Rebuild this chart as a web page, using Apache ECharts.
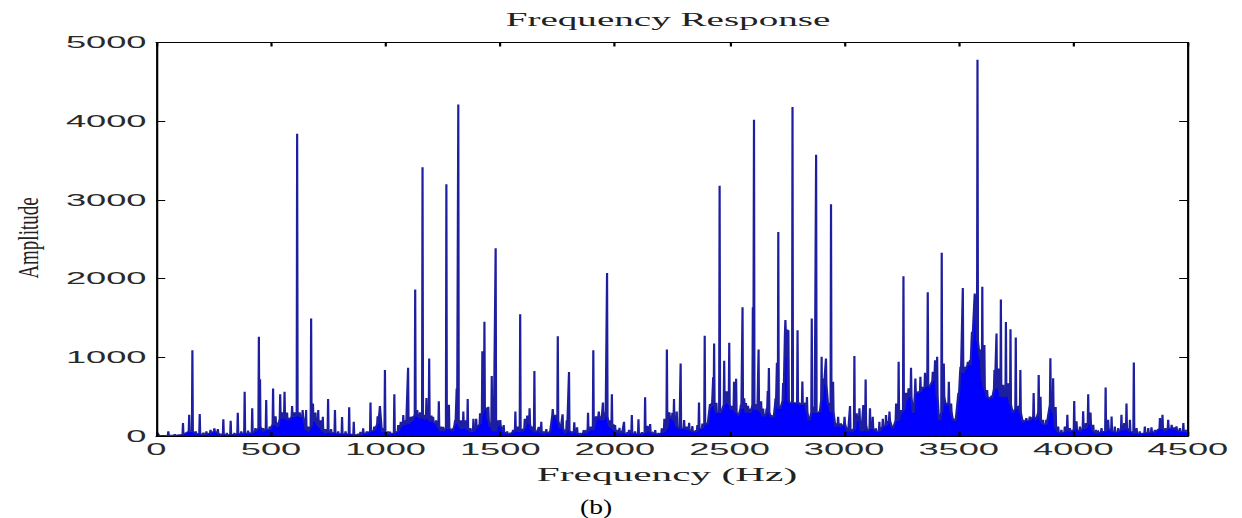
<!DOCTYPE html>
<html>
<head>
<meta charset="utf-8">
<script src="https://cdn.jsdelivr.net/npm/echarts@6/dist/echarts.min.js"></script>
<style>
html,body{margin:0;padding:0;background:#fff;overflow:hidden;width:1242px;height:518px;}
#chart{position:absolute;left:0;top:0;width:565px;height:518px;transform:scaleX(2.19823);transform-origin:0 0;}
</style>
</head>
<body>
<div id="chart"></div>
<script>
// Each entry: [frequency Hz, spike amplitude, surrounding floor amplitude]
const band0to1000 = [
  [10,15,5],[52,60,10],[80,25,10],[116,165,20],[143,270,60],[157,1091,60],[172,60,30],[189,280,30],
  [205,45,20],[218,60,25],[236,80,40],[253,97,60],[268,88,40],[280,30,15],[292,212,20],[307,40,15],
  [324,195,20],[340,40,20],[355,296,30],[370,60,30],[385,563,40],[400,70,35],[418,351,40],[432,100,60],
  [447,1260,100],[452,720,120],[466,100,60],[479,457,80],[494,120,80],[509,605,150],[520,250,150],
  [528,170,120],[540,529,220],[550,300,220],[559,563,250],[570,300,200],[580,230,200],[592,381,250],
  [603,300,250],[614,3841,260],[625,300,250],[638,330,250],[653,330,80],[664,120,60],[675,1493,120],
  [683,414,200],[694,300,180],[706,330,130],[716,200,100],[726,245,60],[737,90,40],[749,470,50],
  [762,90,40],[779,330,40],[793,60,30],[810,240,30],[825,60,25],[841,364,30],[861,180,15],[880,30,15],
  [890,55,20],[902,97,30],[918,60,40],[934,427,60],[950,120,70],[965,250,150],[975,381,300],
  [986,100,50],[997,838,50]
];
const band1000to2000 = [
  [1010,60,30],[1019,55,30],[1038,529,40],[1055,140,60],[1066,180,120],[1077,266,150],[1088,200,150],
  [1098,867,150],[1109,245,180],[1118,250,200],[1129,1861,280],[1138,330,250],[1150,300,230],
  [1161,3414,230],[1170,270,220],[1178,484,230],[1190,986,200],[1200,260,180],[1207,245,180],
  [1220,200,150],[1232,440,100],[1242,120,60],[1251,118,60],[1265,3198,100],[1276,397,100],[1292,97,60],
  [1303,200,150],[1310,605,150],[1317,4212,150],[1328,200,100],[1339,310,100],[1348,200,100],
  [1358,470,80],[1370,100,60],[1383,220,60],[1395,220,100],[1412,288,150],[1422,1078,300],
  [1431,1451,350],[1440,360,340],[1448,372,200],[1455,160,120],[1463,762,100],[1470,120,60],
  [1480,2386,60],[1490,200,150],[1500,203,130],[1515,140,50],[1530,60,30],[1544,42,30],[1556,80,50],
  [1566,310,60],[1576,120,60],[1587,1548,60],[1597,80,60],[1607,220,100],[1618,260,200],[1628,351,150],
  [1638,120,80],[1649,825,50],[1660,60,50],[1668,118,50],[1679,182,40],[1690,60,30],[1701,89,40],
  [1715,60,40],[1729,342,260],[1740,270,250],[1751,1269,200],[1762,150,100],[1772,275,100],[1784,80,40],
  [1790,200,70],[1800,812,70],[1812,60,40],[1823,173,60],[1835,110,40],[1850,40,20],[1864,76,40],
  [1872,60,40],[1883,296,60],[1895,120,80],[1906,1091,80],[1918,250,200],[1930,310,250],[1940,250,200],
  [1948,427,200],[1958,300,250],[1966,2070,250],[1976,200,120],[1987,529,100],[1995,150,80]
];
const band2000to3000 = [
  [2001,140,60],[2010,80,50],[2020,106,40],[2030,60,40],[2040,182,40],[2055,50,30],[2062,80,40],
  [2074,266,40],[2088,60,30],[2103,212,30],[2118,50,30],[2132,491,40],[2143,130,80],[2154,152,50],
  [2165,40,30],[2176,76,30],[2190,40,25],[2205,97,40],[2216,220,60],[2227,1100,100],[2238,300,240],
  [2251,296,220],[2258,470,200],[2270,310,120],[2280,120,100],[2287,922,100],[2302,203,100],
  [2313,120,90],[2324,169,80],[2338,127,60],[2353,76,50],[2360,140,60],[2367,427,100],[2382,160,100],
  [2392,1274,160],[2403,160,150],[2415,406,350],[2422,420,380],[2429,745,380],[2433,1176,380],
  [2443,423,300],[2457,3180,300],[2465,305,300],[2477,956,400],[2488,567,450],[2499,1184,400],
  [2509,385,330],[2520,690,350],[2529,728,300],[2542,266,260],[2550,400,350],[2557,1635,350],
  [2564,478,380],[2572,420,300],[2581,385,300],[2592,350,300],[2602,1637,400],[2607,4020,400],
  [2612,406,330],[2620,400,330],[2627,1100,330],[2638,441,300],[2647,350,250],[2654,266,250],
  [2662,350,300],[2667,571,300],[2672,863,300],[2683,266,240],[2695,245,240],[2701,480,400],
  [2707,930,400],[2713,2593,350],[2724,351,350],[2734,672,450],[2744,1473,1300],[2752,1354,1000],
  [2757,1345,450],[2765,423,420],[2775,4179,420],[2785,423,420],[2797,1345,420],[2807,410,400],
  [2818,694,400],[2829,410,400],[2838,495,300],[2848,220,200],[2859,1494,300],[2870,372,300],
  [2878,3575,300],[2892,310,300],[2902,1007,450],[2911,732,650],[2921,986,650],[2932,423,400],
  [2943,2944,300],[2952,690,300],[2964,160,120],[2974,245,150],[2986,160,120]
];
const band3000to4500 = [
  [3002,245,150],[3016,97,60],[3026,381,60],[3035,76,60],[3045,1015,80],[3055,288,200],[3067,351,200],
  [3074,76,60],[3084,393,60],[3094,719,150],[3103,76,60],[3113,351,100],[3125,245,100],[3139,97,60],
  [3154,182,60],[3169,220,120],[3183,266,130],[3198,310,200],[3212,118,100],[3227,414,200],
  [3238,943,200],[3249,330,300],[3259,2030,320],[3270,550,450],[3281,605,500],[3292,867,500],
  [3302,310,300],[3311,732,550],[3324,567,550],[3333,753,560],[3343,626,600],[3353,803,620],
  [3365,1825,650],[3375,626,620],[3387,816,700],[3397,964,800],[3406,1007,500],[3416,220,200],
  [3426,2330,300],[3435,922,500],[3445,423,400],[3457,690,420],[3467,414,300],[3477,220,200],
  [3489,203,200],[3499,550,500],[3508,880,800],[3518,1880,800],[3528,880,850],[3540,943,900],
  [3550,964,900],[3558,1324,1200],[3570,1811,1700],[3582,4780,1200],[3594,1100,1000],[3603,1895,700],
  [3612,1155,600],[3624,584,500],[3634,491,480],[3644,512,480],[3656,838,600],[3665,1302,600],
  [3675,859,600],[3684,1735,500],[3694,650,500],[3706,1450,500],[3716,670,500],[3726,1355,400],
  [3737,330,300],[3749,1253,350],[3759,370,350],[3769,838,300],[3781,207,180],[3795,228,200],
  [3810,249,200],[3827,545,250],[3839,207,200],[3849,775,300],[3857,500,200],[3868,207,150],
  [3882,207,150],[3900,987,400],[3912,733,300],[3923,370,100],[3934,122,50],[3948,80,40],
  [3963,122,50],[3974,270,80],[3985,100,60],[4004,446,80],[4014,186,80],[4029,122,60],[4043,313,100],
  [4055,165,100],[4065,530,150],[4075,300,150],[4087,144,60],[4100,80,40],[4109,59,40],[4123,100,50],
  [4141,615,60],[4152,207,100],[4167,249,60],[4181,122,50],[4196,100,50],[4210,270,80],[4222,165,80],
  [4232,413,100],[4247,207,60],[4264,933,40],[4276,100,40],[4290,59,30],[4312,122,40],[4327,100,40],
  [4341,110,50],[4356,80,50],[4378,228,100],[4389,270,100],[4402,100,60],[4414,207,100],[4429,144,90],
  [4440,110,90],[4450,122,80],[4465,100,60],[4480,165,60],[4492,80,60]
];
const xTicks = [0,500,1000,1500,2000,2500,3000,3500,4000,4500];
const yTicks = [0,1000,2000,3000,4000,5000];
const titleText = 'Frequency Response';
const xName = 'Frequency (Hz)';
const yName = 'Amplitude';
const caption = '(b)';

const HALF = 2; // half-width (Hz) of each spike's base
const pts = [[0, 0]];
[band0to1000, band1000to2000, band2000to3000, band3000to4500].forEach(b => {
  b.forEach(([f, p, fl]) => {
    pts.push([f - HALF, fl], [f, p], [f + HALF, fl]);
  });
});
pts.push([4500, 60]);

const S = 1242 / 565;
const chart = echarts.init(document.getElementById('chart'), null, {renderer: 'svg'});
const tickFont = {fontFamily: 'Liberation Sans', fontSize: 16.5, color: '#2a2a2a', formatter: v => String(v)};
const axisCommon = {
  type: 'value', min: xTicks[0], max: xTicks[xTicks.length - 1], interval: 500, z: 5,
  axisLine: {show: true, onZero: false, lineStyle: {color: '#000', width: 1}},
  axisTick: {show: true, inside: true, length: 4, lineStyle: {color: '#000', width: 1}},
  splitLine: {show: false}
};
const yCommon = {
  type: 'value', min: yTicks[0], max: yTicks[yTicks.length - 1], interval: 1000, z: 5,
  axisLine: {show: true, onZero: false, lineStyle: {color: '#000', width: 1}},
  axisTick: {show: true, inside: true, length: 4, lineStyle: {color: '#000', width: 1}},
  splitLine: {show: false}
};
chart.setOption({
  animation: false,
  backgroundColor: '#fff',
  grid: {left: 71.15, right: 24.6, top: 42.5, bottom: 82, containLabel: false},
  xAxis: [
    Object.assign({}, axisCommon, {position: 'bottom', axisLabel: Object.assign({margin: 4.5}, tickFont)}),
    Object.assign({}, axisCommon, {position: 'top', axisLabel: {show: false}})
  ],
  yAxis: [
    Object.assign({}, yCommon, {position: 'left', axisLabel: Object.assign({margin: 4.5}, tickFont)}),
    Object.assign({}, yCommon, {position: 'right', axisLabel: {show: false}})
  ],
  series: [{
    type: 'line', xAxisIndex: 0, yAxisIndex: 0, data: pts, showSymbol: false, symbol: 'none',
    silent: true, z: 2,
    lineStyle: {color: '#1e1ea0', width: 1, join: 'miter'},
    areaStyle: {color: '#0000ff', opacity: 1}
  }],
  graphic: [
    {type: 'text', x: 668 / S, y: 20, style: {text: titleText, font: '17.8px "Liberation Serif"', fill: '#222', align: 'center', verticalAlign: 'middle'}},
    {type: 'text', x: 667 / S, y: 475, style: {text: xName, font: '18.8px "Liberation Serif"', fill: '#222', align: 'center', verticalAlign: 'middle'}},
    {type: 'text', x: 27.5 / S, y: 238, rotation: Math.PI / 2, scaleX: 1, scaleY: 1.55 / S, style: {text: yName, font: '19px "Liberation Serif"', fill: '#222', align: 'center', verticalAlign: 'middle'}},
    {type: 'text', x: 596 / S, y: 506, scaleX: 1.25 / S, scaleY: 1, style: {text: caption, font: '22px "Liberation Serif"', fill: '#000', align: 'center', verticalAlign: 'middle'}}
  ]
});
</script>
</body>
</html>
